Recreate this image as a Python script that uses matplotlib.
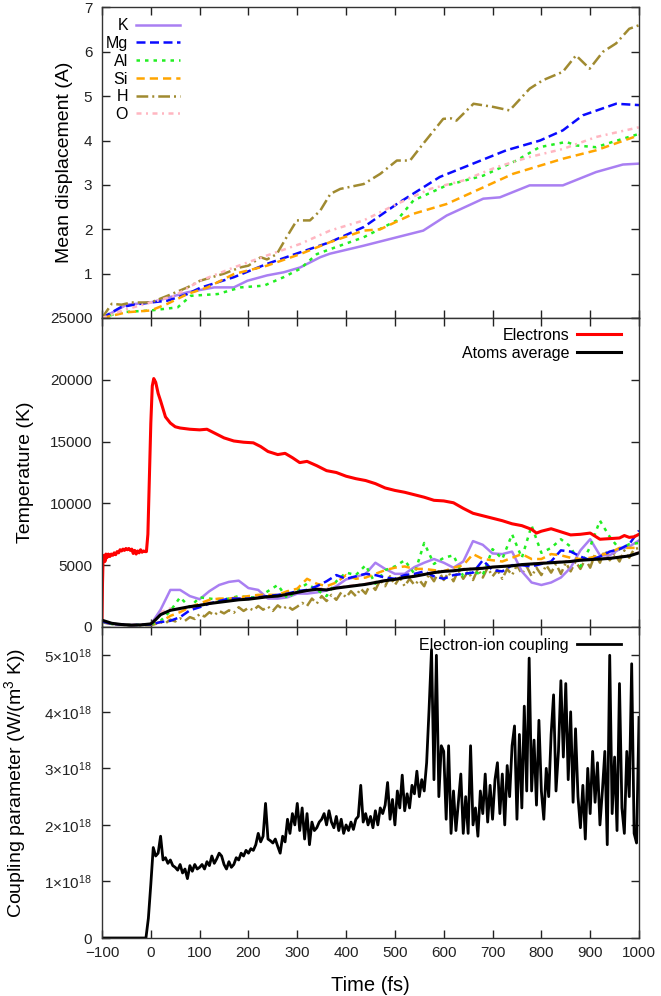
import numpy as np
import matplotlib
matplotlib.use("Agg")
import matplotlib.pyplot as plt

plt.rcParams['font.family'] = ['Liberation Sans', 'DejaVu Sans']
plt.rcParams['mathtext.fontset'] = 'custom'
plt.rcParams['mathtext.rm'] = 'Liberation Sans'
plt.rcParams['mathtext.it'] = 'Liberation Sans:italic'

# ---- panel 1: mean displacement (A) ----
k_t = [-100, -49, 0, 75, 130, 170, 198, 238, 272, 306, 347, 367, 436, 504, 558, 606, 681, 715, 776, 844, 912, 967, 1000]
k_d = [0, 0.3, 0.35, 0.58, 0.69, 0.69, 0.84, 0.96, 1.03, 1.14, 1.37, 1.45, 1.63, 1.82, 1.97, 2.31, 2.69, 2.72, 2.99, 2.99, 3.29, 3.46, 3.48]
mg_t = [-100, -62, -35, 0, 34, 75, 101, 170, 238, 306, 367, 436, 504, 592, 660, 728, 797, 844, 885, 953, 1000]
mg_d = [0, 0.24, 0.3, 0.35, 0.39, 0.54, 0.68, 0.92, 1.22, 1.48, 1.71, 2.05, 2.57, 3.18, 3.48, 3.78, 4.0, 4.23, 4.57, 4.83, 4.8]
al_t = [-100, -62, 0, 55, 82, 137, 184, 232, 272, 306, 340, 367, 436, 504, 538, 606, 681, 749, 796, 851, 871, 912, 946, 1000]
al_d = [0, 0.13, 0.17, 0.24, 0.5, 0.54, 0.69, 0.73, 0.92, 1.11, 1.44, 1.55, 1.82, 2.2, 2.65, 2.99, 3.21, 3.55, 3.85, 3.97, 3.89, 3.85, 3.97, 4.15]
si_t = [-100, -49, 0, 34, 75, 116, 170, 238, 306, 367, 436, 470, 538, 606, 674, 742, 844, 912, 1000]
si_d = [0, 0.13, 0.17, 0.32, 0.54, 0.69, 0.99, 1.18, 1.44, 1.71, 1.97, 2.0, 2.35, 2.57, 2.91, 3.25, 3.59, 3.78, 4.12]
h_t = [-100, -80, -60, -40, 0, 34, 75, 101, 150, 183, 200, 225, 238, 258, 278, 299, 326, 347, 368, 388,
       436, 470, 504, 531, 558, 599, 615, 626, 661, 701, 735, 776, 803, 844, 871, 899, 926, 953, 980, 1000]
h_d = [0, 0.32, 0.3, 0.35, 0.35, 0.5, 0.69, 0.84, 1.0, 1.14, 1.18, 1.37, 1.32, 1.44, 1.82, 2.2, 2.2, 2.42, 2.8, 2.91,
       3.02, 3.25, 3.55, 3.55, 3.93, 4.49, 4.5, 4.45, 4.83, 4.76, 4.68, 5.17, 5.36, 5.55, 5.92, 5.62, 6.0, 6.19, 6.52, 6.6]
o_t = [-100, -49, 0, 48, 101, 170, 238, 306, 367, 436, 504, 572, 640, 708, 776, 844, 912, 1000]
o_d = [0, 0.2, 0.35, 0.5, 0.84, 1.14, 1.41, 1.67, 1.97, 2.2, 2.57, 2.91, 3.1, 3.4, 3.63, 3.81, 4.08, 4.3]

# ---- panel 2: temperature (K) ----
elec_t = [-100, -99, -98, -96, -94, -92, -90, -87, -84, -81, -78, -75, -72, -69, -66, -63, -60, -57, -54, -51,
          -48, -45, -42, -39, -36, -33, -30, -27, -24, -21, -18, -15, -12, -9, -6, -3, 0, 3, 6, 10,
          15, 20, 30, 40, 50, 60, 80, 100, 115, 130, 150, 170, 190, 210, 225, 240, 260, 275, 290, 305,
          320, 340, 360, 380, 400, 420, 440, 460, 480, 500, 520, 540, 560, 580, 600, 620, 640, 660, 680, 700,
          720, 740, 760, 780, 790, 800, 820, 840, 860, 880, 900, 920, 940, 960, 970, 980, 990, 1000]
elec_T = [600, 3500, 5200, 5800, 5300, 5900, 5600, 5900, 5700, 5900, 5800, 6000, 5850, 6100, 6000, 6250, 6150, 6300, 6200, 6350,
          6250, 6350, 6200, 6300, 5950, 6200, 5900, 6150, 6000, 6250, 6050, 6150, 6100, 6100, 7500, 12000, 16500, 19500, 20100, 19800,
          18900, 18300, 17000, 16500, 16200, 16100, 16000, 15950, 16000, 15700, 15300, 15050, 14950, 14900, 14600, 14200, 13950, 14050, 13700, 13300,
          13400, 13050, 12650, 12500, 12200, 12000, 11850, 11600, 11250, 11050, 10900, 10700, 10500, 10250, 10200, 10050, 9600, 9200, 9000, 8800,
          8600, 8350, 8200, 7900, 7600, 7750, 7950, 7700, 7450, 7500, 7600, 7100, 7150, 7200, 7400, 7250, 7300, 7500]

avg_t = [-100, -80, -60, -40, -20, 0, 10, 20, 40, 60, 80, 100, 120, 140, 160, 180, 200, 220, 240, 260,
         280, 300, 320, 340, 360, 380, 400, 420, 440, 460, 480, 500, 520, 540, 560, 580, 600, 620, 640, 660,
         680, 700, 720, 740, 760, 780, 800, 820, 840, 860, 880, 900, 920, 940, 960, 980, 1000]
avg_T = [550, 300, 200, 150, 170, 250, 600, 1000, 1350, 1500, 1650, 1750, 1900, 2000, 2100, 2200, 2250, 2350, 2450, 2500,
         2650, 2800, 2950, 3050, 3000, 3150, 3250, 3350, 3450, 3600, 3750, 3850, 4000, 4100, 4250, 4400, 4500, 4550, 4650, 4700,
         4750, 4850, 4900, 4950, 5050, 5100, 5150, 5200, 5250, 5300, 5400, 5450, 5500, 5550, 5650, 5750, 6000]

sp_t = [-100, -80, -60, -40, -20, 0, 20, 40, 60, 80, 100, 120, 140, 160, 180, 200, 220, 240, 260, 280,
        300, 320, 340, 360, 380, 400, 420, 440, 460, 480, 500, 520, 540, 560, 580, 600, 620, 640, 660, 680,
        700, 720, 740, 760, 780, 800, 820, 840, 860, 880, 900, 920, 940, 960, 980, 1000]
k_T = [450, 250, 200, 150, 180, 200, 1400, 3000, 3000, 2500, 2250, 2900, 3400, 3650, 3750, 3150, 3000, 2300, 2300, 2400,
       2700, 2700, 2800, 2950, 3300, 3850, 4050, 4300, 5200, 4700, 4300, 4300, 4850, 5200, 5500, 5200, 4800, 5300, 6950, 6650,
       5950, 5900, 6100, 4500, 3600, 3400, 3600, 4000, 4800, 6200, 7100, 5800, 5800, 6300, 6500, 7000]
mg_T = [450, 250, 200, 150, 180, 200, 400, 500, 800, 1350, 1600, 1900, 2100, 2300, 2300, 2300, 2400, 2500, 2600, 2700,
        2900, 3000, 3300, 3700, 4200, 3900, 4100, 4300, 4200, 4000, 3900, 4200, 4300, 4500, 4100, 3900, 4200, 4300, 4400, 5400,
        4600, 4500, 5000, 5000, 4900, 5100, 5300, 6200, 6100, 5700, 5400, 5700, 6100, 6300, 6700, 7800]
al_T = [450, 250, 200, 150, 180, 200, 500, 1300, 2400, 1600, 2400, 2300, 2200, 2300, 2500, 2400, 2400, 2900, 3400, 2300,
        3000, 3500, 3000, 2500, 3700, 4400, 4200, 5000, 3500, 4600, 4900, 5400, 4300, 6800, 5100, 5600, 5800, 4100, 4500, 4200,
        6300, 5500, 7500, 5600, 8200, 6000, 6400, 7100, 6500, 4900, 6500, 8600, 7300, 6300, 6700, 6800]
si_T = [450, 250, 200, 150, 180, 200, 400, 900, 1200, 1600, 1900, 2200, 2300, 2300, 2400, 2500, 2600, 2600, 2600, 2900,
        3100, 3900, 3500, 3300, 3600, 4200, 3900, 4000, 4300, 4600, 4800, 4900, 4700, 4700, 4600, 4500, 4800, 5000, 5900, 5500,
        5400, 5300, 5600, 5900, 5500, 5500, 5900, 5800, 5600, 5500, 5600, 5800, 6000, 6400, 6400, 6400]
o_T = [450, 250, 200, 150, 180, 250, 1200, 1500, 1400, 1500, 1800, 2000, 2100, 2200, 2300, 2400, 2450, 2500, 2600, 2700,
       2850, 2950, 3100, 3150, 3200, 3300, 3400, 3500, 3650, 3800, 3900, 4050, 4150, 4300, 4450, 4550, 4600, 4700, 4750, 4800,
       4850, 4900, 5000, 5050, 5100, 5200, 5250, 5300, 5350, 5400, 5450, 5550, 5600, 5700, 5800, 6050]
h_T_start = -100
h_T = [400, 300, 250, 200, 150, 180, 120, 160, 130, 150,
       140, 250, 380, 300, 600, 450, 700, 500, 800, 650,
       1050, 850, 1200, 950, 1300, 1100, 1350, 1150, 1600, 1300,
       1550, 1350, 1700, 1400, 1650, 1300, 1750, 1450, 1700, 1400,
       1650, 1950, 1700, 2300, 1900, 2500, 2100, 2600, 2200, 2800,
       2400, 2900, 2500, 3100, 2700, 3500, 3000, 3800, 3300, 4100,
       3400, 4000, 3300, 3900, 3400, 3800, 3300, 4300, 3700, 4500,
       3800, 4400, 3700, 4600, 3900, 4500, 3800, 4700, 4000, 4800,
       4100, 4600, 3900, 4700, 4200, 5000, 4300, 4900, 4100, 4800,
       4200, 5000, 4400, 5100, 4300, 5200, 4500, 5300, 4700, 5500,
       4800, 5900, 5200, 6200, 5400, 5900, 5300, 6200, 5600, 6300, 6400]

# ---- panel 3: electron-ion coupling (units of 1e18) ----
cpl_t_pre = [-100, -10, -5]
cpl_pre = [0.0, 0.0, 0.35]
cpl_step = 5
cpl = [0.95, 1.6, 1.45, 1.5, 1.8, 1.38, 1.42, 1.32, 1.38, 1.28,
       1.25, 1.2, 1.3, 1.15, 1.22, 1.05, 1.28, 1.18, 1.3, 1.22,
       1.25, 1.3, 1.22, 1.35, 1.28, 1.45, 1.32, 1.4, 1.5, 1.45,
       1.3, 1.22, 1.35, 1.25, 1.3, 1.42, 1.38, 1.5, 1.45, 1.55,
       1.5, 1.58, 1.55, 1.65, 1.85, 1.7, 1.8, 2.38, 1.75, 1.72,
       1.68, 1.75, 1.62, 1.5, 1.8, 1.7, 2.1, 1.85, 2.2, 2.0,
       2.38, 1.9, 2.3, 1.75, 2.2, 1.65, 2.05, 1.9, 1.95, 2.05,
       2.1, 2.2, 2.0, 2.25, 2.05, 1.95, 2.15, 1.9, 2.1, 1.85,
       2.0, 1.9, 2.05, 1.92, 2.1, 2.15, 2.7, 2.05, 2.2, 2.0,
       2.15, 1.95, 2.25, 2.0, 2.3, 2.2, 2.35, 2.75, 2.1, 2.45,
       2.0, 2.6, 2.3, 2.88, 2.25, 2.55, 2.3, 2.7, 2.55, 2.95,
       2.5, 2.8, 2.6, 3.1, 4.05, 5.1, 2.8, 5.0, 2.5, 3.4,
       3.3, 2.1, 3.4, 1.85, 2.6, 1.9, 2.4, 2.9, 1.85, 2.5,
       1.85, 3.4, 2.0, 2.3, 1.8, 2.6, 2.2, 2.9, 2.05, 2.7,
       2.1, 2.8, 3.1, 2.2, 2.9, 2.0, 3.05, 2.5, 3.4, 3.75,
       2.1, 3.6, 2.3, 4.1, 2.6, 4.95, 2.6, 3.5, 2.35, 3.85,
       2.6, 2.1, 3.0, 2.5, 3.6, 4.3, 2.6, 3.3, 4.55, 3.2,
       4.5, 2.8, 4.0, 2.4, 3.7, 2.5, 1.95, 2.7, 1.75, 3.0,
       2.2, 3.3, 2.4, 3.1, 2.0, 2.6, 3.3, 1.65, 5.0, 2.2,
       3.2, 1.9, 4.5, 2.3, 1.85, 3.3, 2.5, 4.85, 1.85, 1.68,
       3.9]

xticks = list(range(-100, 1001, 100))

# ---------------------------------------------------------------
fig = plt.figure(figsize=(6.61, 9.96), dpi=100)
left, width = 102 / 661, 537 / 661
ax1 = fig.add_axes([left, 1 - 318 / 996, width, 310.5 / 996])
ax2 = fig.add_axes([left, 1 - 627 / 996, width, 309 / 996])
ax3 = fig.add_axes([left, 1 - 938 / 996, width, 311 / 996])

lw = 1.8
sp_style = {
    'K': dict(color='#a97ff2', ls='-'),
    'Mg': dict(color='#0a0aff', ls=(0, (3.6, 1.8))),
    'Al': dict(color='#22ee22', ls=(0, (1.4, 2.0))),
    'Si': dict(color='#ffa500', ls=(0, (3.3, 2.0))),
    'H': dict(color='#a08a30', ls=(0, (4.7, 1.6, 0.8, 1.6))),
    'O': dict(color='#ffb6c1', ls=(0, (2.0, 1.8, 0.8, 1.8))),
}

disp = [('K', k_t, k_d), ('Mg', mg_t, mg_d), ('Al', al_t, al_d),
        ('Si', si_t, si_d), ('H', h_t, h_d), ('O', o_t, o_d)]
for name, t, d in disp:
    ax1.plot(t, d, lw=lw, label=name, **sp_style[name])

h_T_t = np.arange(len(h_T)) * 10 + h_T_start
temps = [('O', sp_t, o_T), ('H', h_T_t, h_T), ('K', sp_t, k_T), ('Al', sp_t, al_T),
         ('Si', sp_t, si_T), ('Mg', sp_t, mg_T)]
for name, t, T in temps:
    ax2.plot(t, T, lw=lw, **sp_style[name])
ax2.plot(elec_t, elec_T, color='#ff0000', lw=2.2, label='Electrons')
ax2.plot(avg_t, avg_T, color='black', lw=2.2, label='Atoms average')

cpl_t = list(cpl_t_pre) + list(np.arange(len(cpl)) * cpl_step)
cpl_v = np.array(list(cpl_pre) + cpl) * 1e18
ax3.plot(cpl_t, cpl_v, color='black', lw=2.0, label='Electron-ion coupling')

# axes cosmetics
for ax in (ax1, ax2, ax3):
    ax.set_xlim(-100, 1000)
    ax.set_xticks(xticks)
    ax.tick_params(direction='in', length=6, width=1, top=True, right=True,
                   labelsize=11, pad=7, colors='#222222')
    for s in ax.spines.values():
        s.set_color('#333333')
        s.set_linewidth(1.0)
    ax.tick_params(axis='x', labelbottom=False)

ax3.tick_params(axis='x', labelbottom=True, pad=6)

ax1.set_ylim(0, 7)
ax1.set_yticks(range(0, 8))
ax1.set_yticklabels([''] + [str(i) for i in range(1, 8)])
ax2.set_ylim(0, 25000)
ax2.set_yticks(range(0, 25001, 5000))
ax3.set_ylim(0, 5.5e18)
ax3.set_yticks([i * 1e18 for i in range(6)])
ax3.set_yticklabels(['0'] + ['%d×10$^{18}$' % i for i in range(1, 6)])

ax1.set_ylabel('Mean displacement (A)', fontsize=14)
ax2.set_ylabel('Temperature (K)', fontsize=14)
ax3.set_ylabel('Coupling parameter (W/(m$^3$ K))', fontsize=14)
ax1.yaxis.set_label_coords(-0.054, 0.5)
ax2.yaxis.set_label_coords(-0.127, 0.5)
ax3.yaxis.set_label_coords(-0.138, 0.5)
ax3.set_xlabel('Time (fs)', fontsize=14.5, labelpad=11)

leg_kw = dict(frameon=False, markerfirst=False, fontsize=11.5, handlelength=2.75,
              handletextpad=0.5, borderpad=0, borderaxespad=0, labelspacing=0.17)
ax1.legend(loc='upper right', bbox_to_anchor=(0.1453, 0.965), **leg_kw)
ax2.legend(loc='upper right', bbox_to_anchor=(0.9665, 0.968), **leg_kw)
ax3.legend(loc='upper right', bbox_to_anchor=(0.9665, 0.965), **leg_kw)

fig.savefig('out.png', dpi=100)
